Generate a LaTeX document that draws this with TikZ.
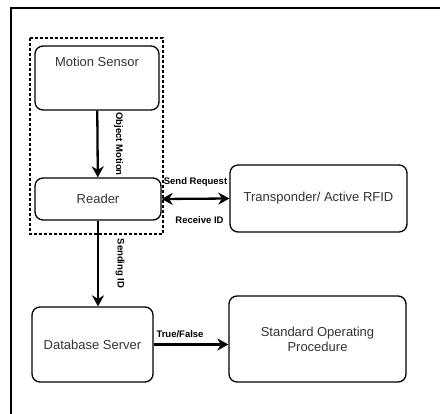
\documentclass[tikz,border=0pt]{standalone}
\usepackage{fontspec}
\setmainfont{Liberation Sans}
\usetikzlibrary{arrows.meta}

\tikzset{
  txt/.style={font=\fontsize{13}{15}\selectfont, text=black!80},
  block/.style={draw, line width=1.3pt, rounded corners=8pt, align=center, txt},
  tip/.tip={Stealth[length=11pt,width=12pt,inset=3.5pt]},
  flow/.style={line width=2.3pt, -tip},
  twoway/.style={line width=2.3pt, tip-tip},
  lbl/.style={font=\bfseries\fontsize{9.5}{10}\selectfont, inner sep=0pt}
}

\begin{document}
\begin{tikzpicture}[x=1pt, y=-1pt]
    \useasboundingbox (0,0) rectangle (440,414);
    \draw[line width=2pt] (11,414) -- (11,8) -- (440,8);
    \draw[line width=1.5pt, dash pattern=on 3pt off 2pt] (30,38) rectangle (163,234);

    \node[block, minimum width=124pt, minimum height=64pt,
      label={[txt, anchor=base, yshift=-21.5pt]north:Motion Sensor}] (ms) at (97,78) {};
    \node[block, minimum width=126pt, minimum height=42pt] (rd) at (98,199) {Reader};
    \node[block, minimum width=177pt, minimum height=67pt] (tp) at (318.5,198.5) {Transponder/ Active RFID};
    \node[block, minimum width=121pt, minimum height=75pt] (db) at (92.5,344.5) {Database Server};
    \node[block, minimum width=177pt, minimum height=86pt] (sop) at (317.5,339) {Standard Operating\\Procedure};

    \draw[flow] (ms) -- (rd) node[lbl, midway, xshift=21pt, rotate=-90] {Object Motion};
    \draw[twoway] (rd.east) -- (tp.west)
      node[lbl, midway, yshift=17pt] {Send Request}
      node[lbl, midway, xshift=4pt, yshift=-21pt] {Receive ID};
    \draw[flow] (rd.south) -- (rd.south |- db.north) node[lbl, midway, xshift=22pt, rotate=-90] {Sending ID};
    \draw[flow] (db.east) -- (db.east -| sop.west) node[lbl, midway, xshift=-11pt, yshift=10pt] {True/False};
  \end{tikzpicture}
\end{document}
